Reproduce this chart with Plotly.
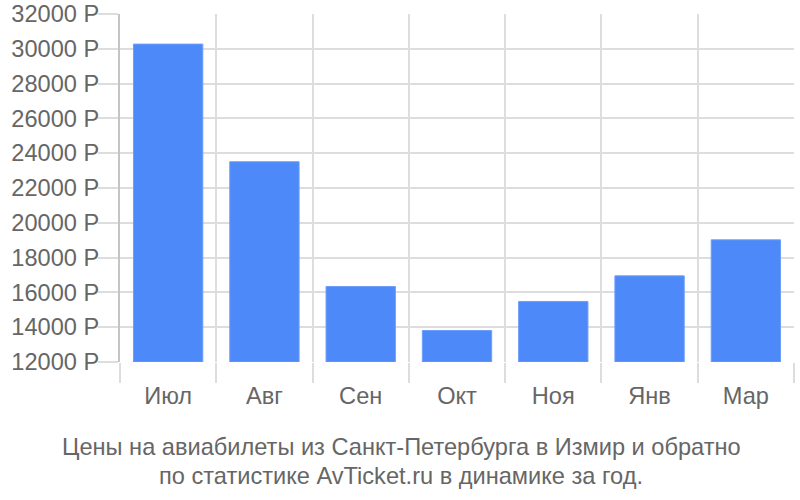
import plotly.graph_objects as go

months = ["Июл", "Авг", "Сен", "Окт", "Ноя", "Янв", "Мар"]
prices = [30270, 23510, 16340, 13810, 15480, 16950, 19020]
base_value = 12000
y_ticks = [12000, 14000, 16000, 18000, 20000, 22000, 24000, 26000, 28000, 30000, 32000]
y_tick_text = [f"{v} Р" for v in y_ticks]
caption_lines = [
    "Цены на авиабилеты из Санкт-Петербурга в Измир и обратно",
    "по статистике AvTicket.ru в динамике за год.",
]

FONT = "Liberation Sans, Arial, sans-serif"
FS = 23.6
TEXT = "#666666"
GRID = "#dddddd"

W, H = 800, 500
ML, MR, MT, MB = 120, 6, 14, 138
plot_w = W - ML - MR
plot_h = H - MT - MB

fig = go.Figure(go.Bar(
    x=months,
    y=[p - base_value for p in prices],
    base=base_value,
    width=0.72,
    marker=dict(color="#4d89f9", line=dict(color="#6d9ef9", width=1)),
    customdata=prices,
    hovertemplate="%{x}: %{customdata} Р<extra></extra>",
))

cap_x = (401 - ML) / plot_w
cap_y = [-85.5 / plot_h, -113.5 / plot_h]

fig.update_layout(
    width=W, height=H,
    margin=dict(l=ML, r=MR, t=MT, b=MB),
    plot_bgcolor="white", paper_bgcolor="white",
    font=dict(family=FONT, size=FS, color=TEXT),
    showlegend=False,
    xaxis=dict(
        tickson="boundaries", ticks="outside", ticklen=20, tickcolor=GRID, tickwidth=2,
        showgrid=True, gridcolor=GRID, gridwidth=2,
        showline=False, tickfont=dict(size=FS, color=TEXT),
        automargin=False, ticklabelstandoff=17,
    ),
    yaxis=dict(
        range=[base_value, 32000],
        tickvals=y_ticks, ticktext=y_tick_text,
        ticks="outside", ticklen=20, tickcolor=GRID, tickwidth=2,
        showgrid=True, gridcolor=GRID, gridwidth=2,
        showline=True, linecolor="#c4c4c4", linewidth=2,
        zeroline=False, tickfont=dict(size=FS, color=TEXT),
        automargin=False, ticklabelstandoff=-6,
    ),
    annotations=[
        dict(text=line, xref="paper", yref="paper", x=cap_x, y=yy,
             xanchor="center", yanchor="middle", showarrow=False,
             font=dict(family=FONT, size=FS, color=TEXT))
        for line, yy in zip(caption_lines, cap_y)
    ],
)

fig.write_html("out.html", config={"displayModeBar": False},
               post_script="document.body.style.margin='0';")
